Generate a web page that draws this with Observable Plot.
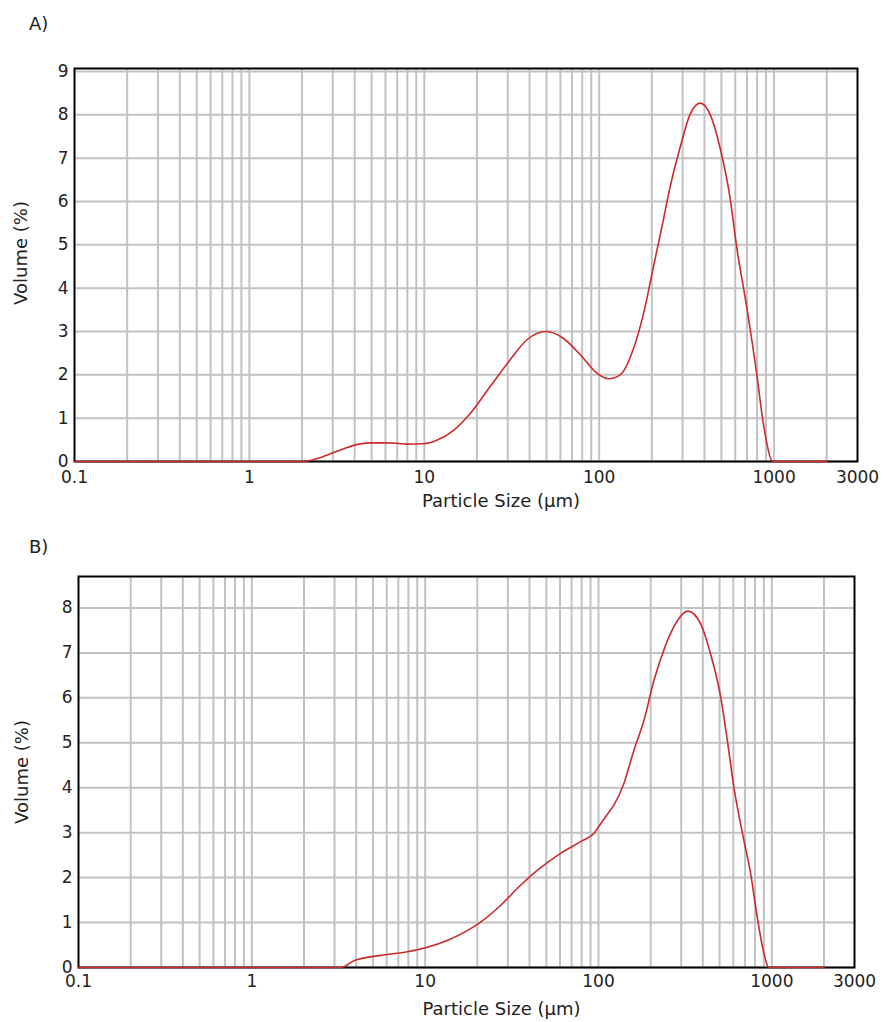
<!DOCTYPE html>
<html>
<head>
<meta charset="utf-8">
<script src="https://cdn.jsdelivr.net/npm/d3@7"></script>
<script src="https://cdn.jsdelivr.net/npm/@observablehq/plot@0.6"></script>
<style>
  html, body { margin: 0; padding: 0; background: #fff; }
  #wrap { position: relative; width: 883px; height: 1022px; overflow: hidden; font-family: "DejaVu Sans", sans-serif; color: #222; }
  .panel-label { position: absolute; font-size: 18px; }
  .plot { position: absolute; left: 0; }
  .ylab { position: absolute; font-size: 18px; white-space: nowrap; transform: translate(-50%, -50%) rotate(-90deg); }
</style>
</head>
<body>
<div id="wrap">
  <div class="panel-label" style="left:29px; top:13px;">A)</div>
  <div id="plotA" class="plot" style="top:0px;"></div>
  <div class="panel-label" style="left:29px; top:536px;">B)</div>
  <div id="plotB" class="plot" style="top:530px;"></div>
  <div id="ylabA" class="ylab" style="left:20px; top:253px;"></div>
  <div id="ylabB" class="ylab" style="left:21px; top:772px;"></div>
</div>
<script>
// ---- Data ----
const sizesA  = [0.1, 2.0, 2.5, 3.0, 3.5, 4.1, 4.9, 6.0, 7.0, 7.9, 9.9, 11.8, 14.7, 18.3, 23.8, 31, 38.6, 50, 62, 81, 97, 113, 132, 157, 179, 204, 228, 254, 290, 331, 378, 431, 491, 560, 612, 698, 796, 869, 971, 1000, 2000];
const volumeA = [0,   0,   0.08, 0.2, 0.3, 0.39, 0.43, 0.43, 0.42, 0.40, 0.41, 0.49, 0.72, 1.11, 1.73, 2.35, 2.81, 3.0, 2.85, 2.39, 2.04, 1.91, 2.0, 2.6, 3.4, 4.48, 5.4, 6.32, 7.24, 8.01, 8.27, 8.01, 7.24, 6.09, 4.94, 3.56, 2.02, 0.87, 0.02, 0, 0];

const sizesB  = [0.1, 3.26, 3.88, 5.53, 7.89, 10.3, 13.4, 17.5, 20.9, 27.2, 35.5, 44.3, 60.4, 78.8, 94, 103, 112, 123, 140, 160, 183, 209, 238, 272, 328, 388, 443, 507, 554, 604, 690, 755, 824, 901, 962, 2000];
const volumeB = [0,   0,    0.15, 0.27, 0.35, 0.45, 0.6, 0.82, 1.01, 1.38, 1.83, 2.16, 2.54, 2.8, 2.98, 3.2, 3.4, 3.62, 4.09, 4.83, 5.5, 6.39, 7.06, 7.58, 7.93, 7.65, 6.98, 6.02, 5.05, 4.02, 2.83, 2.09, 1.12, 0.31, 0, 0];

const xTickLabels = [0.1, 1, 10, 100, 1000, 3000];
const yTicksA = [0, 1, 2, 3, 4, 5, 6, 7, 8, 9];
const yTicksB = [0, 1, 2, 3, 4, 5, 6, 7, 8];
const decades = [0.1, 1, 10, 100, 1000];
const multipliers = [1, 2, 3, 4, 5, 6, 7, 8, 9];

const xLabel = "Particle Size (µm)";
const yLabel = "Volume (%)";

// grid positions (log minor grid up to 2000)
const gridX = [];
for (const d of decades) for (const m of multipliers) {
  const v = +(d * m).toPrecision(3);
  if (v > 0.1 && v <= 2000) gridX.push(v);
}

const font = "DejaVu Sans";
const gridColor = "#c2c2c2";
const curveColor = "#cc2a2a";

document.getElementById("ylabA").textContent = yLabel;
document.getElementById("ylabB").textContent = yLabel;

function makePlot({sizes, volume, yTicks, yMax, height, mt, mb, ml, mr, tickDy, xLabelDy}) {
  const data = sizes.map((s, i) => ({size: s, vol: volume[i]}));
  return Plot.plot({
    width: 883,
    height,
    marginTop: mt, marginBottom: mb, marginLeft: ml, marginRight: mr,
    x: {type: "log", domain: [0.1, 3000], axis: null},
    y: {domain: [0, yMax]},
    style: {fontFamily: font, fontSize: "17px", color: "#222", background: "transparent", overflow: "visible"},
    marks: [
      Plot.ruleX(gridX, {stroke: gridColor, strokeWidth: 2}),
      Plot.ruleY(yTicks, {stroke: gridColor, strokeWidth: 2}),
      Plot.frame({stroke: "#000", strokeWidth: 2}),
      Plot.line(data, {x: "size", y: "vol", stroke: curveColor, strokeWidth: 1.6, curve: "monotone-x"}),
      Plot.text(xTickLabels, {x: d => d, frameAnchor: "bottom", dy: tickDy, lineAnchor: "top", fontSize: 17, fill: "#222", text: d => String(d), clip: false}),
      Plot.axisY(yTicks, {tickSize: 0, tickPadding: 6, label: null}),
      Plot.text([xLabel], {frameAnchor: "bottom", dx: 35, dy: xLabelDy, fontSize: 18, fill: "#222", text: d => d})
    ]
  });
}

document.getElementById("plotA").append(makePlot({
  sizes: sizesA, volume: volumeA, yTicks: yTicksA, yMax: 9.07,
  height: 525, mt: 68, mb: 64, ml: 74, mr: 26, tickDy: 9, xLabelDy: 45
}));
document.getElementById("plotB").append(makePlot({
  sizes: sizesB, volume: volumeB, yTicks: yTicksB, yMax: 8.7,
  height: 492, mt: 46, mb: 55, ml: 78, mr: 29, tickDy: 7, xLabelDy: 47
}));
</script>
</body>
</html>
